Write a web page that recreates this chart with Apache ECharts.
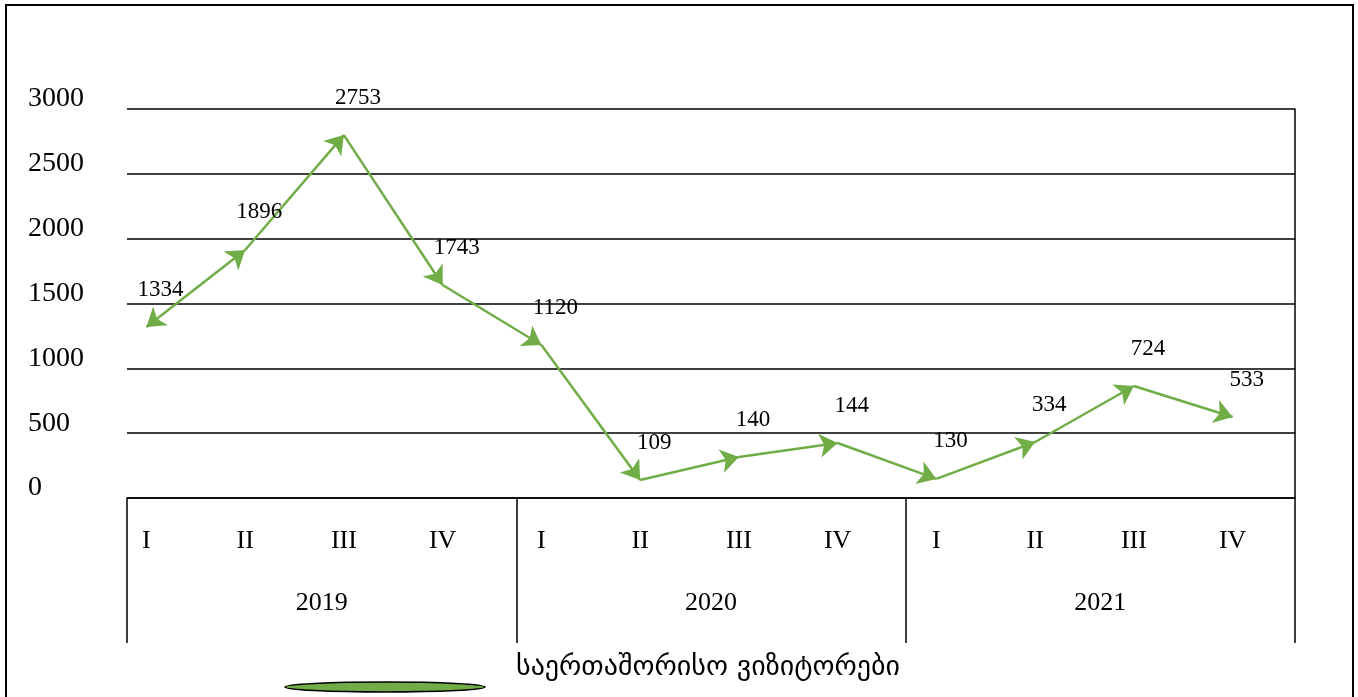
<!DOCTYPE html>
<html>
<head>
<meta charset="utf-8">
<script src="https://cdn.jsdelivr.net/npm/echarts@6/dist/echarts.min.js"></script>
<style>
  html, body { margin: 0; padding: 0; background: #fff; }
  #chart { width: 1358px; height: 697px; }
</style>
</head>
<body>
<div id="chart"></div>
<script>
// quarters and years
const quarters = ['I', 'II', 'III', 'IV', 'I', 'II', 'III', 'IV', 'I', 'II', 'III', 'IV'];
const years = ['2019', '2020', '2021'];

// line as drawn in the picture
const visitors = [1319, 1913, 2799, 1643, 1180, 139, 316, 424, 147, 432, 864, 625];
// label text printed next to each point
const labelText = ['1334', '1896', '2753', '1743', '1120', '109', '140', '144', '130', '334', '724', '533'];

const yTicks = [0, 3000, 500];
const seriesName = 'საერთაშორისო ვიზიტორები';

const green = '#70ad47';
const serif = '"Liberation Serif", "DejaVu Serif", serif';

// segments with arrows at ends
let segs = [];
for (let i = 0; i < visitors.length - 1; i++) {
	segs.push({
		coords: [[i, visitors[i]], [i + 1, visitors[i + 1]]],
		symbol: i === 0 ? ['arrow', 'arrow'] : ['none', 'arrow']
	});
}

const chart = echarts.init(document.getElementById('chart'));

chart.setOption({
	animation: false,
	grid: [
		{ left: 127, right: 63, top: 109, bottom: 199 },   // frame, gridlines, years
		{ left: 97, right: 76, top: 109, bottom: 199 }     // the line
	],
	legend: {
		data: [seriesName],
		left: 505,
		top: 649,
		itemWidth: 0,
		itemHeight: 0,
		textStyle: { fontFamily: '"DejaVu Sans", sans-serif', fontSize: 28, color: '#000' }
	},
	xAxis: [
		{
			type: 'category',
			gridIndex: 0,
			data: years,
			axisLine: { show: true, lineStyle: { color: '#000', width: 1.5 } },
			axisTick: { show: true, length: 145, interval: 0, alignWithLabel: false, lineStyle: { color: '#000', width: 1.5 } },
			axisLabel: { margin: 92, color: '#000', fontFamily: serif, fontSize: 26 }
		},
		{
			type: 'category',
			gridIndex: 1,
			data: quarters,
			axisLine: { show: false },
			axisTick: { show: false },
			axisLabel: { interval: 0, margin: 30, color: '#000', fontFamily: serif, fontSize: 26 }
		}
	],
	yAxis: [
		{
			type: 'value',
			gridIndex: 0,
			min: yTicks[0],
			max: yTicks[1],
			interval: yTicks[2],
			axisLine: { show: false },
			axisTick: { show: false },
			splitLine: { lineStyle: { color: '#000', width: 1.5 } },
			axisLabel: {
				align: 'left',
				verticalAlign: 'bottom',
				padding: [0, 0, -4, 0],
				margin: 99,
				color: '#000',
				fontFamily: serif,
				fontSize: 28,
				formatter: v => String(v)
			}
		},
		{
			type: 'value',
			gridIndex: 0,
			position: 'right',
			min: yTicks[0],
			max: yTicks[1],
			interval: yTicks[2],
			axisLine: { show: true, lineStyle: { color: '#000', width: 1.5 } },
			axisTick: { show: false },
			axisLabel: { show: false },
			splitLine: { show: false }
		},
		{
			type: 'value',
			gridIndex: 1,
			min: yTicks[0],
			max: yTicks[1],
			show: false
		}
	],
	series: [
		{
			name: seriesName,
			type: 'lines',
			coordinateSystem: 'cartesian2d',
			xAxisIndex: 1,
			yAxisIndex: 2,
			symbolSize: 18,
			lineStyle: { color: green, width: 2.5, opacity: 1 },
			data: segs
		},
		{
			name: 'labels',
			type: 'scatter',
			xAxisIndex: 1,
			yAxisIndex: 2,
			symbolSize: 0,
			silent: true,
			data: visitors.map((v, i) => [i, v]),
			label: {
				show: true,
				position: 'top',
				distance: 26,
				offset: [14, 0],
				color: '#000',
				opacity: 1,
				fontFamily: serif,
				fontSize: 23,
				formatter: p => labelText[p.dataIndex]
			}
		}
	],
	graphic: [
		{
			type: 'rect',
			shape: { x: 6, y: 5, width: 1347, height: 700 },
			style: { fill: 'none', stroke: '#000', lineWidth: 2 },
			silent: true
		},
		{
			type: 'ellipse',
			shape: { cx: 385, cy: 687, rx: 100, ry: 5 },
			style: { fill: green, stroke: '#000', lineWidth: 1.5 },
			silent: true
		}
	]
});
</script>
</body>
</html>
